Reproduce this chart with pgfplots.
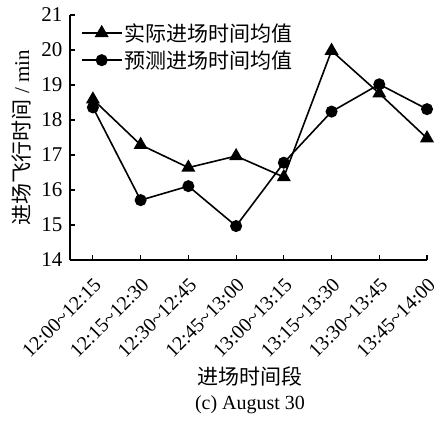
\documentclass[border=0pt]{standalone}
\usepackage{fontspec}
\setmainfont{Liberation Serif}
\newfontfamily\cjk{Noto Sans CJK SC}
\usepackage{pgfplots}
\pgfplotsset{compat=1.18}
\newcommand{\tk}[2]{\mbox{#1\char"7E\relax#2}}
\begin{document}
\begin{tikzpicture}
\path (-70pt,-160pt) rectangle (368pt,260pt);
\begin{axis}[
  at={(0pt,0pt)}, anchor=south west,
  scale only axis,
  width=357pt, height=245pt,
  xmin=-0.48, xmax=7, ymin=14, ymax=21,
  axis lines=left,
  axis line style={-, line width=1.1pt},
  tick align=inside,
  major tick length=5pt,
  tick style={line width=1.1pt, black},
  xtick={0,...,7},
  xticklabels={\tk{12:00}{12:15},\tk{12:15}{12:30},\tk{12:30}{12:45},\tk{12:45}{13:00},\tk{13:00}{13:15},\tk{13:15}{13:30},\tk{13:30}{13:45},\tk{13:45}{14:00}},
  x tick label style={rotate=45, anchor=north east, font=\fontsize{20}{22}\selectfont, inner sep=0pt},
  xticklabel shift=17pt,
  ytick={14,...,21},
  y tick label style={font=\fontsize{21}{23}\selectfont, xshift=-4pt},
  /pgf/number format/assume math mode=true,
  ylabel={\cjk 进场飞行时间\rmfamily\ / min},
  ylabel style={font=\fontsize{21}{23}\selectfont, at={(axis description cs:-0.137,0.5)}, anchor=center},
  xlabel={\cjk 进场时间段},
  xlabel style={font=\fontsize{21}{23}\selectfont, at={(axis description cs:0.504,0)}, anchor=center, yshift=-116pt},
  legend style={at={(axis description cs:0.03,0.975)}, anchor=north west, draw=none, fill=none,
    font=\fontsize{21}{24}\selectfont\cjk, row sep=4pt, inner sep=0pt},
  legend cell align=left,
  legend image code/.code={\draw[mark repeat=2,mark phase=2] plot coordinates {(0pt,0pt)(20pt,0pt)(40pt,0pt)};},
  clip=false,
]
\addplot[black, line width=1.6pt, mark=triangle*, mark size=6.5pt] coordinates {
(0,18.59) (1,17.29) (2,16.64) (3,16.97) (4,16.37) (5,19.98) (6,18.76) (7,17.48)};
\addlegendentry{实际进场时间均值}
\addplot[black, line width=1.6pt, mark=*, mark size=5.2pt] coordinates {
(0,18.36) (1,15.71) (2,16.11) (3,14.97) (4,16.78) (5,18.24) (6,19.02) (7,18.31)};
\addlegendentry{预测进场时间均值}
\end{axis}
\node[font=\fontsize{20}{22}\selectfont] at (180pt,-145pt) {(c) August 30};
\end{tikzpicture}
\end{document}
